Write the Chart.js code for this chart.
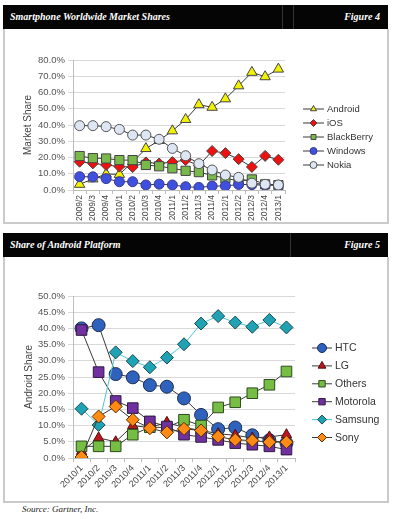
<!DOCTYPE html>
<html>
<head>
<meta charset="utf-8">
<script src="https://cdn.jsdelivr.net/npm/chart.js@4.4.1/dist/chart.umd.min.js"></script>
<style>
  html, body { margin:0; padding:0; background:#fff; }
  body { width:394px; height:519px; position:relative; overflow:hidden; font-family:"Liberation Serif", serif; }
  .head { position:absolute; left:3px; width:385px; height:24px; background:#050505; color:#fff;
          font-style:italic; font-weight:bold; font-size:10px; }
  .head span { position:absolute; top:6px; }
  .head .t { left:7px; }
  .head .f { right:8px; }
  .head .sep { position:absolute; top:0; bottom:0; width:1px; background:#333; }
  .box { position:absolute; left:3px; width:382px; border:2px solid #cacaca; border-top:none; background:#fff; }
  canvas { position:absolute; left:0; }
  .src { position:absolute; left:22px; top:504px; font-style:italic; font-size:9px; color:#222; }
</style>
</head>
<body>
<div class="head" style="top:5px"><span class="t">Smartphone Worldwide Market Shares</span><div class="sep" style="left:279px"></div><div class="sep" style="left:290px"></div><span class="f">Figure 4</span></div>
<div class="box" style="top:29px;height:193px"></div>
<canvas id="chart1" width="394" height="192" style="top:30px"></canvas>

<div class="head" style="top:233px"><span class="t">Share of Android Platform</span><div class="sep" style="left:287px"></div><span class="f">Figure 5</span></div>
<div class="box" style="top:257px;height:244px"></div>
<canvas id="chart2" width="394" height="244" style="top:257px"></canvas>
<div class="src">Source: Gartner, Inc.</div>

<script>
// Figure 4 data
const quarters1 = ['2009/2','2009/3','2009/4','2010/1','2010/2','2010/3','2010/4','2011/1','2011/2','2011/3','2011/4','2012/1','2012/2','2012/3','2012/4','2013/1'];
const android    = [3.5, 6.8, 9.8, 9.6, 17.2, 25.5, 30.5, 36.4, 43.4, 52.5, 50.9, 56.1, 64.1, 72.4, 69.7, 74.4];
const ios        = [17.4, 16.4, 15.4, 14.4, 14.1, 17.0, 16.3, 17.2, 18.4, 15.0, 24.0, 22.7, 19.0, 14.2, 21.0, 18.6];
const blackberry = [20.9, 19.6, 19.4, 18.4, 18.4, 15.4, 14.6, 13.4, 11.8, 11.0, 9.0, 7.2, 5.6, 6.5, 3.5, 3.0];
const windows    = [8.2, 8.1, 7.0, 5.1, 5.1, 3.1, 3.6, 3.1, 2.0, 1.6, 2.4, 2.5, 3.4, 3.3, 3.0, 2.9];
const nokia      = [39.6, 39.6, 39.0, 37.3, 33.8, 33.8, 31.2, 25.6, 21.1, 16.2, 12.3, 9.2, 7.8, 4.2, 3.5, 3.1];

// Figure 5 data
const quarters2 = ['2010/1','2010/2','2010/3','2010/4','2011/1','2011/2','2011/3','2011/4','2012/1','2012/2','2012/3','2012/4','2013/1'];
const htc      = [40.0, 41.0, 25.9, 24.9, 22.5, 22.0, 18.4, 13.3, 8.9, 9.4, 7.0, 5.5, 4.6];
const lg       = [2.0, 6.2, 5.0, 10.0, 9.4, 11.0, 9.4, 8.5, 7.5, 7.0, 6.2, 6.5, 7.2];
const others   = [3.6, 3.6, 3.6, 7.2, 9.5, 9.4, 11.8, 10.0, 15.6, 17.2, 20.0, 22.6, 26.7];
const motorola = [39.5, 26.5, 17.6, 15.4, 11.3, 9.7, 7.2, 6.5, 5.6, 4.6, 4.1, 3.6, 2.6];
const samsung  = [15.2, 10.2, 32.6, 29.9, 28.0, 31.0, 35.1, 41.5, 43.8, 41.8, 40.5, 42.6, 40.3];
const sony     = [0.3, 12.8, 15.9, 11.8, 9.2, 7.9, 9.0, 8.5, 6.6, 5.6, 5.4, 4.9, 4.9];

const sans = '"Liberation Sans", Arial, sans-serif';

// legend with a line and a marker, like Excel
const lineLegend = {
    id: 'lineLegend',
    afterDraw(chart, args, opts) {
        const ctx = chart.ctx;
        ctx.save();
        ctx.font = opts.fontSize + 'px ' + sans;
        ctx.textBaseline = 'middle';
        chart.data.datasets.forEach((ds, i) => {
            const y = opts.y + i * opts.gap;
            ctx.strokeStyle = ds.borderColor;
            ctx.lineWidth = 1;
            ctx.beginPath();
            ctx.moveTo(opts.x, y);
            ctx.lineTo(opts.x + opts.len, y);
            ctx.stroke();
            ctx.fillStyle = ds.pointBackgroundColor;
            ctx.strokeStyle = ds.pointBorderColor;
            Chart.helpers.drawPoint(ctx, { pointStyle: ds.pointStyle, radius: opts.radius, rotation: 0, borderWidth: 1 }, opts.x + opts.len / 2, y);
            ctx.fillStyle = '#333';
            ctx.fillText(ds.label, opts.x + opts.len + 3, y + 0.5);
        });
        ctx.restore();
    }
};

function series(label, data, style, fill, radius, line, border, n, idx) {
    return {
        label: label,
        data: data,
        borderColor: line,
        borderWidth: 1,
        pointStyle: style,
        pointRadius: radius,
        pointBackgroundColor: fill,
        pointBorderColor: border,
        pointBorderWidth: 1,
        order: n - 1 - idx
    };
}

function axes(max, step, title, yWidth, xHeight, rot, tickSize) {
    return {
        x: {
            offset: true,
            ticks: { minRotation: rot, maxRotation: rot, autoSkip: false, color: '#444', font: { family: sans, size: tickSize }, padding: 1 },
            grid: { display: true, drawOnChartArea: false, offset: true, tickLength: 4, color: '#bdbdbd' },
            border: { color: '#bdbdbd' },
            afterFit: s => { s.height = xHeight; }
        },
        y: {
            min: 0, max: max,
            ticks: { stepSize: step, callback: v => v.toFixed(1) + '%', color: '#555', font: { family: sans, size: 9.5 }, padding: 3 },
            grid: { color: '#d9d9d9', tickLength: 5 },
            border: { color: '#bdbdbd' },
            title: { display: true, text: title, color: '#444', font: { family: sans, size: 10 }, padding: 0 },
            afterFit: s => { s.width = yWidth; }
        }
    };
}

// 1. Smartphone Worldwide Market Shares
const dark = '#3a3a3a';
new Chart(document.getElementById('chart1'), {
    type: 'line',
    data: {
        labels: quarters1,
        datasets: [
            series('Android', android, 'triangle', '#f2f200', 6, dark, '#444', 5, 0),
            series('iOS', ios, 'rectRot', '#f01010', 5.5, dark, '#444', 5, 1),
            series('BlackBerry', blackberry, 'rect', '#79b94a', 6.5, dark, '#444', 5, 2),
            series('Windows', windows, 'circle', '#3f4fe0', 5, dark, '#3a3a8a', 5, 3),
            series('Nokia', nokia, 'circle', '#dde6f2', 5, dark, '#555', 5, 4)
        ]
    },
    options: {
        responsive: false,
        animation: false,
        layout: { padding: { left: 22, top: 30, right: 109, bottom: 0 } },
        scales: axes(80, 10, 'Market Share', 51, 32, 90, 8.5),
        plugins: {
            legend: { display: false },
            tooltip: { enabled: false },
            lineLegend: { x: 303, len: 21, y: 79, gap: 14, fontSize: 9.5, radius: 3.5 }
        }
    },
    plugins: [lineLegend]
});

// 2. Share of Android Platform
new Chart(document.getElementById('chart2'), {
    type: 'line',
    data: {
        labels: quarters2,
        datasets: [
            series('HTC', htc, 'circle', '#2f62bd', 6.5, dark, '#1e2e55', 6, 0),
            series('LG', lg, 'triangle', '#c0141c', 6, dark, '#4a1010', 6, 1),
            series('Others', others, 'rect', '#76be43', 7.5, dark, '#2e4a1e', 6, 2),
            series('Motorola', motorola, 'rect', '#7030a0', 7.5, dark, '#2e1a40', 6, 3),
            series('Samsung', samsung, 'rectRot', '#1ea2b4', 6.5, '#4cc6d6', '#1a4a52', 6, 4),
            series('Sony', sony, 'rectRot', '#ff8a14', 6.5, dark, '#5a3000', 6, 5)
        ]
    },
    options: {
        responsive: false,
        animation: false,
        layout: { padding: { left: 23, top: 39, right: 99, bottom: 0 } },
        scales: axes(50, 5, 'Android Share', 50, 43, 45, 9),
        plugins: {
            legend: { display: false },
            tooltip: { enabled: false },
            lineLegend: { x: 312, len: 20, y: 91, gap: 17.9, fontSize: 10.5, radius: 4.5 }
        }
    },
    plugins: [lineLegend]
});
</script>
</body>
</html>
